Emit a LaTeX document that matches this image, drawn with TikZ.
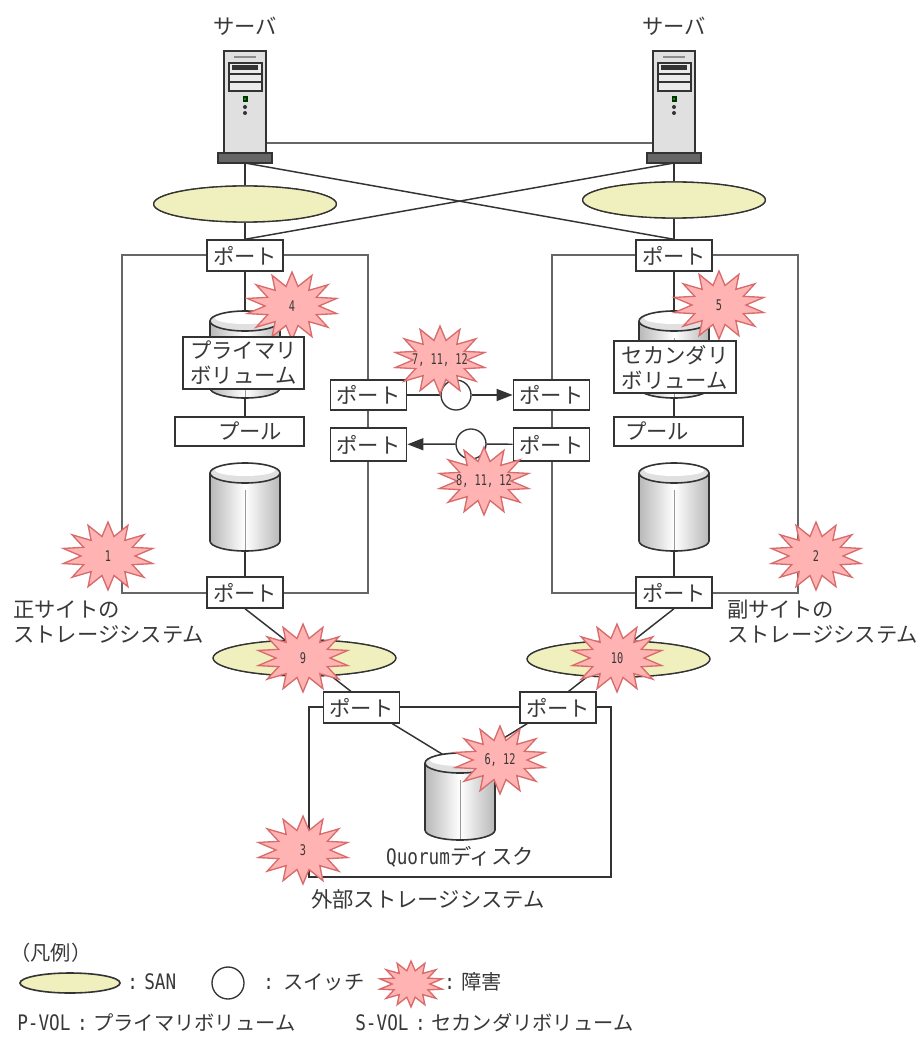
\documentclass[tikz,border=0pt]{standalone}
\usepackage{fontspec}
\setmainfont{Noto Sans CJK JP}
\newfontfamily\hwf[FakeStretch=0.83]{DejaVu Sans Mono}
\newfontfamily\bwf[FakeStretch=0.7]{DejaVu Sans Mono}
\usetikzlibrary{shapes.geometric,arrows.meta,calc}
\definecolor{txt}{HTML}{383838}
\definecolor{edge}{HTML}{333333}
\definecolor{sysline}{HTML}{666666}
\definecolor{sanfill}{HTML}{F0F0BE}
\definecolor{burstfill}{HTML}{FFB3B3}
\definecolor{burstline}{HTML}{D96B6B}
\tikzset{
  lbl/.style={font=\fontsize{16pt}{19pt}\selectfont,text=txt,inner sep=0pt,align=left},
  lgd/.style={font=\fontsize{15.2pt}{19pt}\selectfont,text=txt,inner sep=0pt,align=left},
  portbox/.style={draw=edge,line width=1.3pt,fill=white,minimum width=57pt,minimum height=23pt,inner sep=0pt,font=\fontsize{16pt}{19pt}\selectfont,text=txt},
  volbox/.style={draw=edge,line width=1.3pt,fill=white,minimum width=91pt,minimum height=39pt,inner sep=0pt,align=center,font=\fontsize{16pt}{18.75pt}\selectfont,text=txt},
  poolbox/.style={draw=edge,line width=1.1pt,fill=white,minimum width=97pt,minimum height=22pt,inner sep=0pt},
  san/.style={ellipse,draw=edge,line width=1pt,fill=sanfill,minimum width=137pt,minimum height=27pt,inner sep=0pt},
  switchnode/.style={circle,draw=edge,line width=1pt,fill=white,minimum size=22.5pt,inner sep=0pt},
  burstbase/.style={star,star points=14,star point ratio=1.7,draw=burstline,line width=1pt,fill=burstfill,inner sep=0pt,transform shape},
  burst/.style={burstbase,minimum size=51pt,xscale=1.35},
  burstlabel/.style={font=\bwf\fontsize{11pt}{11pt}\selectfont,text=txt,inner sep=0pt},
  conn/.style={draw=edge,line width=1.1pt},
  sysbox/.style={draw=sysline,line width=1.5pt},
  extbox/.style={draw=edge,line width=1.2pt},
  hit/.style={inner sep=0pt,minimum width=52.5pt},
}
\newcommand{\hw}[1]{{\hwf\fontsize{16pt}{19pt}\selectfont #1}}
% name, x, top, bottom
\newcommand{\drum}[4]{%
  \node[hit,minimum height={(#4-#3)*0.75pt}] (#1) at (#2,{(#3+#4)/2}) {};
  \begin{scope}[shift={(#2,0)}]
    \path[left color=black!28,right color=black!28,middle color=white]
      (-35,#3+10) -- (-35,#4-10) arc[start angle=180,end angle=0,x radius=35,y radius=10]
      -- (35,#3+10) -- cycle;
    \draw[black!40,line width=.6pt] (0,#3+27) -- (0,#4-1);
    \fill[black!12] (0,#3+10) ellipse[x radius=35,y radius=10];
    \fill[white] (0,#3+7) ellipse[x radius=30,y radius=6];
    \draw[edge,line width=1.2pt] (-35,#3+10) -- (-35,#4-10) arc[start angle=180,end angle=0,x radius=35,y radius=10] -- (35,#3+10);
    \draw[edge,line width=1.2pt] (0,#3+10) ellipse[x radius=35,y radius=10];
  \end{scope}}
% name, x
\newcommand{\serverbox}[2]{%
  \node[inner sep=0pt,minimum width=40pt,minimum height=84pt] (#1) at (#2,107) {};
  \begin{scope}[shift={(#2,0)}]
    \draw[edge,line width=1.2pt,fill=black!12] (-21,51) rectangle (21,153);
    \draw[black!45,line width=1pt] (-11,57) -- (11,57);
    \draw[edge,line width=1.2pt,fill=black!8] (-16,63) rectangle (17,91);
    \fill[edge] (-13,65) rectangle (13,70);
    \draw[edge,line width=.9pt] (-16,74) -- (17,74) (-16,82) -- (17,82);
    \fill[black!80!green] (-2.5,96) rectangle (2.5,102);
    \fill[green!60!black] (-1,98) rectangle (1,100);
    \fill[edge] (0,107) circle[radius=2];
    \fill[edge] (0,113) circle[radius=2];
    \draw[edge,line width=1.1pt,fill=black!60] (-27,153) rectangle (27,163);
  \end{scope}}
% name, x, y, label
\newcommand{\hazard}[4]{%
  \node[burst] (#1) at (#2,#3) {};
  \node[burstlabel] (#1t) at (#2,#3) {#4};}
\begin{document}
\begin{tikzpicture}[x=0.75pt,y=-0.75pt]
\useasboundingbox (0,0) rectangle (920,1037);

\coordinate (sLfoot) at (245,163);
\coordinate (sRfoot) at (674,163);
\coordinate (sLside) at (245,143);
\coordinate (sRside) at (674,143);

% storage system frames
\draw[sysbox] (122,255) rectangle (368,593);
\draw[sysbox] (552,255) rectangle (798,593);
\draw[extbox] (309,707) rectangle (611,877);

% nodes that connectors attach to
\node[portbox] (pTL) at (245,255.5) {ポート};
\node[portbox] (pTR) at (674,255.5) {ポート};
\node[portbox] (pBL) at (245,592.5) {ポート};
\node[portbox] (pBR) at (674,592.5) {ポート};
\node[portbox] (pML1) at (368.5,395) {ポート};
\node[portbox,minimum height=24.5pt] (pML2) at (368.5,444.5) {ポート};
\node[portbox] (pMR1) at (551.5,395) {ポート};
\node[portbox,minimum height=24.5pt] (pMR2) at (551.5,444.5) {ポート};
\node[portbox] (pQL) at (361.5,707.5) {ポート};
\node[portbox] (pQR) at (558,707.5) {ポート};
\node[san] (sanTL) at (245,204) {};
\node[san] (sanTR) at (674,200) {};
\node[san] (sanBL) at (304.5,658) {};
\node[san] (sanBR) at (618.5,659) {};
\node[switchnode] (sw1) at (456,395) {};
\node[switchnode] (sw2) at (471,444) {};

% server connectors
\draw[sysbox] (sLside) -- (sRside);
\draw[conn] (sLfoot) -- (sanTL) (sanTL) -- (pTL);
\draw[conn] (sRfoot) -- (sanTR) (sanTR) -- (pTR);
\draw[conn] (sLfoot) -- (pTR.north);
\draw[conn] (sRfoot) -- (pTL.north);

\node[san] at (sanTL) {};
\node[san] at (sanTR) {};
\node[portbox] at (pTL) {ポート};
\node[portbox] at (pTR) {ポート};

\serverbox{srvL}{245}
\serverbox{srvR}{674}

% volumes
\drum{volP}{245}{311}{398}
\drum{poolL}{245}{463}{551}
\drum{volS}{674}{311}{398}
\drum{poolR}{674}{463}{551}

\node[poolbox] (poolboxL) at (239.5,431.5) {};
\node[poolbox] (poolboxR) at (678.5,431.5) {};
\node[lbl] at (250,431) {プール};
\node[lbl] at (657,431) {プール};

\draw[conn] (pTL) -- (volP.north);
\draw[conn] (volP.south) -- (volP.south |- poolboxL.north);
\draw[conn] (pTR) -- (volS.north);
\draw[conn] (volS.south) -- (volS.south |- poolboxR.north);
\draw[conn] (poolL.south) -- (poolL.south |- pBL.north);
\draw[conn] (poolR.south) -- (poolR.south |- pBR.north);

% inter-storage links
\draw[conn] (pML1) -- (sw1);
\draw[conn,-{Triangle[length=12pt,width=9pt]}] (sw1) -- (pMR1);
\draw[conn] (pMR2) -- (sw2);
\draw[conn,-{Triangle[length=12pt,width=9pt]}] (sw2) -- (pML2);

% lower SAN links
\draw[conn] (pBL.south) -- ([xshift=-8pt]pQL.north);
\draw[conn] (pBR.south) -- ([xshift=8pt]pQR.north);
\node[san] at (sanBL) {};
\node[san] at (sanBR) {};
\node[portbox] at (pBL) {ポート};
\node[portbox] at (pBR) {ポート};

% quorum disk
\coordinate (qTop) at (460,765);
\draw[conn] (pQL.south east) ++(-6pt,0) -- (qTop);
\draw[conn] (pQR.south west) ++(6pt,0) -- (qTop);
\node[portbox] at (pQL) {ポート};
\node[portbox] at (pQR) {ポート};
\drum{disk}{460}{753}{840}

% hazards
\hazard{h1}{108}{556}{1}
\hazard{h2}{816}{556}{2}
\hazard{h3}{303}{850}{3}
\hazard{h4}{292}{306}{4}
\hazard{h5}{719}{305}{5}
\hazard{h7}{440}{360}{7, 11, 12}
\hazard{h8}{484}{481}{8, 11, 12}
\hazard{h9}{303}{658}{9}
\hazard{h10}{617}{658}{10}
\hazard{h6}{500}{760}{6, 12}

% boxed volume names sit over the hazards
\node[volbox] (boxP) at (243.5,363) {プライマリ\\ボリューム};
\node[volbox] (boxS) at (675,367) {セカンダリ\\ボリューム};

% texts
\node[lbl] (tsrvL) at (245,26) {サーバ};
\node[lbl] (tsrvR) at (674,26) {サーバ};
\node[lbl,anchor=west] (tmain) at (13,610) {正サイトの};
\node[lbl,anchor=west] (tmain2) at (13,635) {ストレージシステム};
\node[lbl,anchor=west] (tsub) at (727,610) {副サイトの};
\node[lbl,anchor=west] (tsub2) at (727,635) {ストレージシステム};
\node[lbl] (tq) at (460,857) {\hw{Quorum}ディスク};
\node[lbl] (text) at (428,899) {外部ストレージシステム};

% legend
\node[lgd,anchor=west] (lg0) at (10,953) {（凡例）};
\node[san,minimum width=75pt,minimum height=15pt,line width=1.2pt] (lgs) at (70,983) {};
\node[lgd,anchor=west] (lgst) at (127,982) {\hw{:}\hspace{4.8pt}\hw{SAN}};
\node[switchnode,minimum size=24pt] (lgc) at (228,983) {};
\node[lgd,anchor=west] (lgct) at (263,982) {\hw{:}\hspace{7pt}スイッチ};
\node[burstbase,minimum size=34.5pt,xscale=1.39] (lgb) at (411,984) {};
\node[lgd,anchor=west] (lgbt) at (444,982) {\hw{:}\hspace{5pt}障害};
\node[lgd,anchor=west] (lgp) at (17,1023) {\hw{P-VOL}\hspace{5pt}\hw{:}\hspace{4pt}プライマリボリューム};
\node[lgd,anchor=west] (lgq) at (355,1023) {\hw{S-VOL}\hspace{5pt}\hw{:}\hspace{4pt}セカンダリボリューム};
\end{tikzpicture}
\end{document}
